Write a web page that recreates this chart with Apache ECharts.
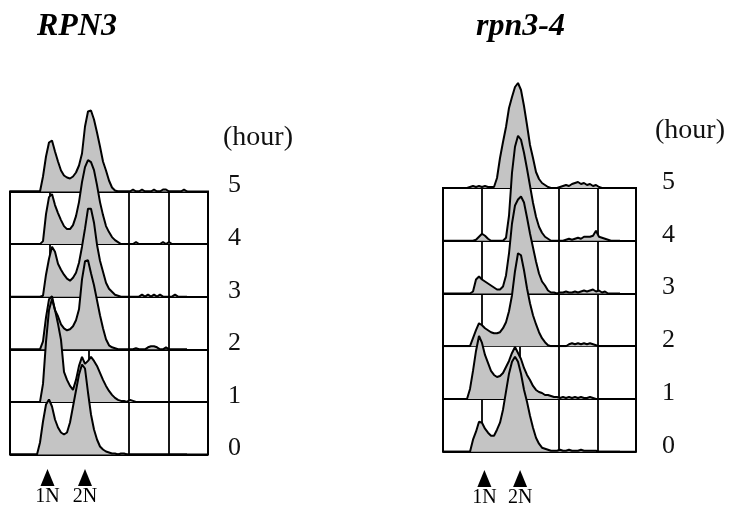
<!DOCTYPE html>
<html>
<head>
    <meta charset="utf-8" />
    <title>RPN3 / rpn3-4 DNA content</title>
    <style>
        html, body { margin: 0; padding: 0; background: #fff; }
        #flow { width: 732px; height: 508px; }
    </style>
</head>
<body>
    <div id="flow"></div>
    <script src="https://cdn.jsdelivr.net/npm/echarts@6/dist/echarts.min.js"></script>
    <script>
        // histogram heights per channel (channel i = 3 px)
        var rpn3_h5 = [0,0,0,0,0,0,0,0,0,0, 0,15,35,49,51,40,30,21,16,14, 13,15,19,26,38,65,80,81,72,59, 45,30,21,11,4,1,0,0,0,0, 0,2,0,0,2,0,0,0,2,0, 0,2,2,0,0,0,0,0,2,0];
        var rpn3_h4 = [0,0,0,0,0,0,0,0,0,0, 0,3,30,47,50,39,31,24,18,15, 15,19,28,42,62,77,84,82,74,59, 42,29,18,12,7,4,2,0,0,0, 0,0,2,0,0,0,0,0,0,0, 0,2,0,2,0,0,0,0,0,0];
        var rpn3_h3 = [0,0,0,0,0,0,0,0,0,0, 0,1,22,38,50,45,33,27,22,18, 16,19,24,34,50,68,88,88,74,52, 36,25,14,8,5,2,1,0,0,0, 0,0,0,0,2,0,2,0,2,0, 2,0,0,0,0,2,0,0,0,0];
        var rpn3_h2 = [0,0,0,0,0,0,0,0,0,0, 0,8,32,50,53,39,33,25,21,19, 20,23,29,40,70,88,89,76,64,49, 34,21,10,4,2,1,0,0,0,0, 0,0,1,0,0,0,2,3,3,2, 0,0,2,0,0,0,0,0,0,0];
        var rpn3_h1 = [0,0,0,0,0,0,0,0,0,0, 0,18,60,92,103,92,78,62,30,22, 16,12,22,36,45,38,41,45,41,36, 29,22,16,11,7,4,2,1,1,0, 2,1,0,0,0,0,0,0,0,0, 0,0,0,0,0,0,0,0,0,0];
        var rpn3_h0 = [0,0,0,0,0,0,0,0,0,0, 12,33,50,55,48,35,27,22,20,22, 32,48,64,80,90,86,62,40,25,15, 8,5,3,2,1,1,0,1,1,0, 0,0,0,0,0,0,0,0,0,0, 0,0,0,0,0,0,0,0,0,0];

        var rpn34_h5 = [0,0,0,0,0,0,0,0,0,1, 2,1,2,1,2,1,1,1,10,30, 46,61,80,91,101,105,98,82,63,43, 30,16,9,5,3,1,0,0,0,1, 2,3,2,4,5,6,4,5,3,4, 2,3,1,0,0,0,0,0,0,0];
        var rpn34_h4 = [0,0,0,0,0,0,0,0,0,0, 0,1,4,7,5,2,0,0,0,0, 0,3,25,68,94,105,101,88,72,55, 38,24,14,8,4,2,0,0,0,0, 0,1,2,1,2,3,2,4,4,4, 5,10,4,3,2,1,0,0,0,0];
        var rpn34_h3 = [0,0,0,0,0,0,0,0,0,0, 2,14,17,14,12,10,8,6,4,4, 7,18,40,70,88,94,97,91,76,60, 46,32,20,12,8,3,1,1,0,1, 1,2,1,1,2,1,2,3,2,3, 4,2,3,1,2,0,0,0,0,0];
        var rpn34_h2 = [0,0,0,0,0,0,0,0,0,0, 8,16,23,21,18,16,14,13,13,14, 18,24,35,51,75,93,91,76,58,43, 31,22,14,8,4,1,0,0,0,0, 0,0,2,3,2,3,2,3,2,3, 2,1,0,0,0,0,0,0,0,0];
        var rpn34_h1 = [0,0,0,0,0,0,0,0,0,10, 28,48,63,56,44,36,28,24,22,23, 26,32,38,46,52,46,40,31,24,19, 13,9,7,6,4,4,3,2,2,1, 2,1,2,1,2,1,2,1,1,2, 1,0,0,0,0,0,0,0,0,0];
        var rpn34_h0 = [0,0,0,0,0,0,0,0,0,0, 12,20,30,29,23,19,16,16,22,29, 42,60,78,90,95,90,78,62,50,36, 24,14,8,4,3,2,1,1,1,2, 1,1,2,1,1,1,2,1,1,1, 1,1,0,0,0,0,0,0,0,0];

        var hourTicks = ['0', '1', '2', '3', '4', '5'];
        var ploidyNames = ['1N', '2N'];
        var ploidyChanRpn3 = [12.5, 25];
        var ploidyChanRpn34 = [13.8, 25.7];

        var serifFont = '"Liberation Serif", "Times New Roman", serif';

        // layout of the two panels (top histogram first, hour 0 last so it is drawn on top)
        var panels = [
            { name: 'RPN3', left: 10, width: 198, top: 191.5, rowH: 52.6, labelMargin: 20,
              hists: [rpn3_h5, rpn3_h4, rpn3_h3, rpn3_h2, rpn3_h1, rpn3_h0],
              ploidy: ploidyChanRpn3, markTop: 469, titleX: 37, hourX: 223, hourY: 138 },
            { name: 'rpn3-4', left: 443, width: 193, top: 188, rowH: 52.74, labelMargin: 26,
              hists: [rpn34_h5, rpn34_h4, rpn34_h3, rpn34_h2, rpn34_h1, rpn34_h0],
              ploidy: ploidyChanRpn34, markTop: 470, titleX: 476, hourX: 655, hourY: 131 }
        ];

        var option = {
            backgroundColor: '#fff',
            animation: false,
            grid: [], xAxis: [], yAxis: [], series: [], graphic: []
        };

        var histH = 110;

        panels.forEach(function (p) {
            var nChan = p.width / 3;
            // frame with 5 x 5 cells
            var gi = option.grid.length;
            option.grid.push({ left: p.left, top: p.top, width: p.width, height: p.rowH * 5,
                show: true, borderColor: '#000', borderWidth: 2, backgroundColor: 'transparent' });
            option.xAxis.push({ gridIndex: gi, type: 'value', min: 0, max: 5, interval: 1,
                axisLine: { show: false }, axisTick: { show: false }, axisLabel: { show: false },
                splitLine: { show: true, lineStyle: { color: '#000', width: 1.8 } } });
            option.yAxis.push({ gridIndex: gi, type: 'value', min: 0, max: 5, interval: 1, position: 'right',
                axisLine: { show: false }, axisTick: { show: false },
                splitLine: { show: true, lineStyle: { color: '#000', width: 1.8 } },
                axisLabel: {
                    margin: p.labelMargin, color: '#111', fontFamily: serifFont, fontSize: 26,
                    verticalAlign: 'bottom', lineHeight: 12,
                    showMinLabel: true, showMaxLabel: true,
                    formatter: function (v) { return hourTicks[v]; }
                } });

            // one grid per histogram, baseline on a row line
            p.hists.forEach(function (h, k) {
                var base = p.top + p.rowH * k;
                var idx = option.grid.length;
                option.grid.push({ left: p.left, top: base - histH, width: p.width, height: histH });
                option.xAxis.push({ gridIndex: idx, type: 'value', min: 0, max: nChan, show: false });
                option.yAxis.push({ gridIndex: idx, type: 'value', min: 0, max: histH, show: false });
                option.series.push({
                    type: 'line', xAxisIndex: idx, yAxisIndex: idx, silent: true,
                    symbol: 'none', showSymbol: false,
                    lineStyle: { color: '#000', width: 2 },
                    areaStyle: { color: '#c4c4c4', opacity: 1, origin: 'start' },
                    data: h.map(function (v, i) { return [i, v]; })
                });
            });

            // 1N / 2N arrows
            var mi = option.grid.length;
            option.grid.push({ left: p.left, top: p.markTop, width: p.width, height: 17 });
            option.xAxis.push({ gridIndex: mi, type: 'value', min: 0, max: nChan, show: false });
            option.yAxis.push({ gridIndex: mi, type: 'value', min: 0, max: 1, show: false });
            option.series.push({
                type: 'scatter', xAxisIndex: mi, yAxisIndex: mi, silent: true,
                symbol: 'triangle', symbolSize: [14, 17],
                itemStyle: { color: '#000', opacity: 1 },
                label: { show: true, position: 'bottom', distance: 1, color: '#000',
                    fontFamily: serifFont, fontSize: 20, formatter: '{b}' },
                data: p.ploidy.map(function (c, i) { return { name: ploidyNames[i], value: [c, 0.5] }; })
            });

            option.graphic.push({ type: 'text', left: p.titleX, top: 11, style: {
                text: p.name, fill: '#000', fontFamily: serifFont, fontSize: 32,
                fontStyle: 'italic', fontWeight: 'bold' } });
            option.graphic.push({ type: 'text', x: p.hourX, y: p.hourY, style: {
                text: '(hour)', fill: '#111', fontFamily: serifFont, fontSize: 28,
                verticalAlign: 'middle' } });
        });

        var chart = echarts.init(document.getElementById('flow'));
        chart.setOption(option);
    </script>
</body>
</html>
